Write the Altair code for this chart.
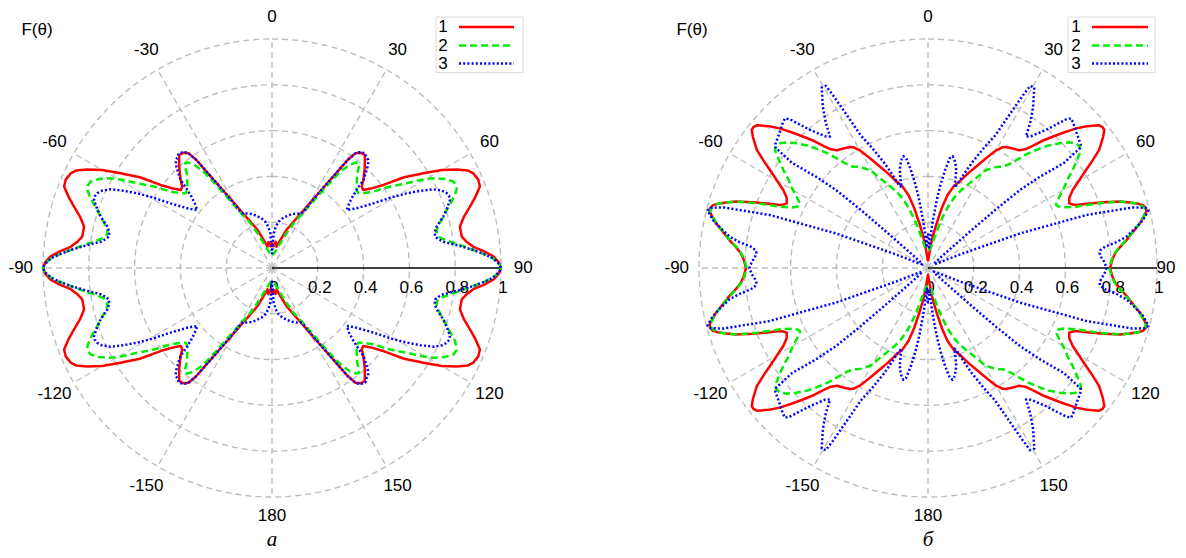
import altair as alt
import pandas as pd

# ---------------- data (first quadrant, theta in degrees; patterns are symmetric) -------------
SERIES = ["1", "2", "3"]
COLORS = ["#ff0000", "#00ee00", "#0000ff"]

# panel а
A1_T = [0, 4, 8, 12, 15, 18, 21, 23.5, 25.6, 28, 29.9, 32.3, 33.9, 35, 36, 37.5, 39.3, 40.7, 42.5, 44, 46,
        47.8, 49.5, 51.5, 53.3, 55.5, 58, 60, 61.9, 63.5, 64.8, 66.8, 68.6, 70.8, 72.8, 75, 77.6, 80.6, 82.5,
        84, 85.5, 87, 88.5, 90]
A1_R = [0.11, 0.095, 0.115, 0.095, 0.115, 0.14, 0.18, 0.205, 0.232, 0.27, 0.317, 0.403, 0.489, 0.576, 0.62,
        0.635, 0.639, 0.622, 0.6, 0.58, 0.555, 0.529, 0.524, 0.56, 0.607, 0.70, 0.78, 0.855, 0.914, 0.955,
        0.971, 0.98, 0.975, 0.94, 0.905, 0.868, 0.84, 0.84, 0.86, 0.884, 0.93, 0.968, 0.99, 1.0]

A2_T = [0, 5, 10, 15, 20, 23, 26, 28, 30, 32, 33.5, 34.5, 35.5, 37, 38.5, 39.5, 40.5, 42, 45, 47, 49.1,
        51, 53, 55.5, 57.8, 59.5, 60.9, 62.8, 64.5, 66, 67.1, 68.5, 69.7, 71.5, 73.3, 75, 77, 78.3, 79.3,
        80.5, 81.6, 83.3, 84.9, 86.3, 87.5, 89, 90]
A2_R = [0.06, 0.06, 0.07, 0.09, 0.13, 0.17, 0.22, 0.25, 0.29, 0.35, 0.42, 0.47, 0.52, 0.565, 0.588, 0.595,
        0.585, 0.556, 0.523, 0.505, 0.498, 0.52, 0.554, 0.63, 0.694, 0.76, 0.806, 0.85, 0.877, 0.882, 0.875,
        0.856, 0.836, 0.806, 0.781, 0.758, 0.738, 0.735, 0.739, 0.76, 0.786, 0.835, 0.883, 0.93, 0.966,
        0.992, 1.0]

A3_T = [0, 1.5, 2.75, 5, 8.2, 12, 16.1, 20, 24.6, 28, 29.5, 30.5, 32.3, 33.9, 35, 36.2, 37.5, 39.2, 40.5,
        41.7, 43, 44, 45, 46.1, 47.3, 48.5, 50, 52.2, 54.8, 57.5, 59.5, 61, 62.5, 64, 65.5, 66.8, 68, 69.1,
        71, 73.3, 75.9, 77.5, 79.1, 80.2, 81.3, 83, 84.9, 86.3, 87.5, 89, 90]
A3_R = [0.06, 0.1, 0.15, 0.18, 0.204, 0.222, 0.236, 0.25, 0.262, 0.268, 0.29, 0.33, 0.403, 0.489, 0.576,
        0.625, 0.638, 0.645, 0.635, 0.632, 0.615, 0.595, 0.575, 0.554, 0.503, 0.47, 0.44, 0.413, 0.452,
        0.525, 0.61, 0.672, 0.73, 0.784, 0.815, 0.83, 0.835, 0.832, 0.81, 0.781, 0.741, 0.728, 0.725,
        0.738, 0.757, 0.815, 0.883, 0.93, 0.966, 0.992, 1.0]

# panel б
B1_T = [0, 3, 5, 7, 9, 11, 13, 15, 17.5, 20.7, 23, 25.9, 28, 29.9, 31.5, 32.7, 35, 37.7, 39.3, 40.5, 41.9,
        43.5, 45, 46.7, 48.3, 50.1, 51.1, 51.9, 53.2, 55.4, 56.8, 58.2, 60, 61.7, 63.5, 65.4, 66.3, 66.9,
        68, 69.5, 70.9, 72, 73, 73.7, 74.7, 75.5, 76.5, 78.1, 80, 82, 84, 85.5, 87.5, 90]
B1_R = [0.03, 0.04, 0.06, 0.1, 0.15, 0.2, 0.27, 0.33, 0.375, 0.411, 0.45, 0.5, 0.545, 0.59, 0.617, 0.628,
        0.638, 0.65, 0.67, 0.7, 0.745, 0.79, 0.835, 0.889, 0.93, 0.972, 0.98, 0.978, 0.955, 0.908, 0.86,
        0.812, 0.76, 0.718, 0.69, 0.678, 0.69, 0.702, 0.75, 0.82, 0.887, 0.925, 0.96, 0.978, 0.987, 0.985,
        0.97, 0.946, 0.91, 0.876, 0.84, 0.82, 0.805, 0.795]

B2_T = [0, 4, 8, 11, 14, 16, 18.1, 20.5, 23.1, 26, 28.7, 30.2, 32, 33.5, 35, 36.5, 38, 39.8, 41, 42.5, 44.5,
        46.5, 48.3, 49.9, 51.2, 52.4, 54, 55.9, 57.7, 59.5, 61.5, 63, 63.8, 64.8, 65.8, 67.5, 69.3, 70.9,
        72, 73, 74, 74.7, 75.5, 76.5, 78.1, 80, 82, 84, 85.5, 87.5, 90]
B2_R = [0.08, 0.08, 0.09, 0.12, 0.18, 0.23, 0.282, 0.33, 0.37, 0.41, 0.455, 0.49, 0.51, 0.527, 0.54, 0.55,
        0.575, 0.623, 0.66, 0.699, 0.75, 0.791, 0.825, 0.845, 0.848, 0.844, 0.805, 0.763, 0.72, 0.69, 0.653,
        0.63, 0.623, 0.63, 0.645, 0.70, 0.8, 0.887, 0.925, 0.96, 0.975, 0.983, 0.982, 0.968, 0.944, 0.908,
        0.873, 0.838, 0.818, 0.802, 0.792]

B3_T = [0, 1.5, 3, 4, 5, 5.9, 7.5, 8.6, 10, 11.3, 12.4, 13.5, 14.8, 16.1, 17.2, 18.2, 19.5, 21, 22.5, 25,
        26.9, 28, 28.8, 29.3, 30.5, 31.3, 33.1, 35, 36.7, 38, 40.5, 42.9, 43.7, 45.1, 48, 51, 51.7, 52.3,
        50.8, 49.7, 49.2, 49, 49.5, 52, 58, 64, 67, 69.4, 71.5, 73.5, 74.5, 75.3, 76.3, 77.4, 79, 81, 82.2,
        83.1, 84.2, 85.1, 86.5, 88, 90]
B3_R = [0.15, 0.14, 0.09, 0.1, 0.16, 0.21, 0.31, 0.37, 0.44, 0.49, 0.5, 0.49, 0.47, 0.445, 0.405, 0.37,
        0.39, 0.44, 0.494, 0.58, 0.65, 0.76, 0.86, 0.912, 0.915, 0.89, 0.841, 0.78, 0.716, 0.73, 0.793,
        0.886, 0.904, 0.896, 0.875, 0.858, 0.85, 0.75, 0.631, 0.527, 0.4, 0.25, 0.1, 0.04, 0.03, 0.05, 0.15,
        0.429, 0.73, 0.93, 0.985, 0.995, 0.98, 0.963, 0.925, 0.878, 0.83, 0.78, 0.755, 0.752, 0.758, 0.77,
        0.78]

RING_R = [0.2, 0.4, 0.6, 0.8, 1.0]
SPOKE_ANG = [0, 30, 60, 120, 150, 180, 210, 240, 270, 300, 330]
RTICK_R = [0, 0.2, 0.4, 0.6, 0.8, 1.0]
RTICK_LABELS = ["0", "0.2", "0.4", "0.6", "0.8", "1"]
ANG_T = [0, 30, 60, 90, 120, 150, 180, -150, -120, -90, -60, -30]
ANG_LABELS = [str(a) for a in ANG_T]

# ---------------- layout ----------------
R_PX = 229.0
H = 542
FONT = "Liberation Sans"
GRAY = "#bdbdbd"
DASHES = {"1": None, "2": [7, 4], "3": [2, 2.2]}


def full_turn(ts, rs):
    pts = list(zip(ts, rs))
    out = list(pts)
    out += [(180 - t, r) for t, r in reversed(pts)]
    out += [(180 + t, r) for t, r in pts]
    out += [(360 - t, r) for t, r in reversed(pts)]
    return out


XY = dict(x="datum.r*sin(datum.theta*PI/180)", y="datum.r*cos(datum.theta*PI/180)")


def panel(curves, view_left, width, cx, cy, legend, ftheta, letter, label_r90):
    xdom = [(view_left - cx) / R_PX, (view_left + width - cx) / R_PX]
    ydom = [(cy - (8 + H)) / R_PX, (cy - 8) / R_PX]
    xs = alt.Scale(domain=xdom, nice=False, zero=False)
    ys = alt.Scale(domain=ydom, nice=False, zero=False)
    X = lambda f: alt.X(f, scale=xs, axis=None)
    Y = lambda f: alt.Y(f, scale=ys, axis=None)
    px = lambda v: (v - cx) / R_PX
    py = lambda v: (cy - v) / R_PX

    rings = pd.DataFrame([{"rad": rr, "theta": a, "r": rr} for rr in RING_R for a in range(0, 362, 2)])
    ring_l = alt.Chart(rings).transform_calculate(**XY).mark_line(
        color=GRAY, strokeWidth=1.4, strokeDash=[6, 4]).encode(
        x=X("x:Q"), y=Y("y:Q"), detail="rad:N", order="theta:Q")

    spokes = pd.DataFrame({"theta": SPOKE_ANG})
    spoke_l = alt.Chart(spokes).transform_calculate(
        x0="0", y0="0", x1="sin(datum.theta*PI/180)", y1="cos(datum.theta*PI/180)").mark_rule(
        color=GRAY, strokeWidth=1.4, strokeDash=[6, 4]).encode(
        x=X("x0:Q"), y=Y("y0:Q"), x2="x1:Q", y2="y1:Q")

    axis_l = alt.Chart(pd.DataFrame({"r": [1.0]})).transform_calculate(
        x0="0", y0="0", y1="0").mark_rule(color="black", strokeWidth=1.6).encode(
        x=X("x0:Q"), y=Y("y0:Q"), x2="r:Q", y2="y1:Q")

    rt = pd.DataFrame({"r": RTICK_R, "label": RTICK_LABELS})
    rt_l = alt.Chart(rt).transform_calculate(y0="0").mark_text(
        font=FONT, fontSize=17, dy=19.5, dx=2, align="center", baseline="middle", color="black").encode(
        x=X("r:Q"), y=Y("y0:Q"), text="label:N")

    lab_r = [label_r90 if a == 90 else (1.084 if a == 180 else 1.097) for a in ANG_T]
    at = pd.DataFrame({"theta": ANG_T, "label": ANG_LABELS, "r": lab_r})
    at_l = alt.Chart(at).transform_calculate(**XY).mark_text(
        font=FONT, fontSize=17, align="center", baseline="middle", color="black", clip=True).encode(
        x=X("x:Q"), y=Y("y:Q"), text="label:N")

    layers = [ring_l, spoke_l, axis_l, rt_l, at_l]

    for s, c, (ts, rs) in zip(SERIES, COLORS, curves):
        pts = full_turn(ts, rs)
        df = pd.DataFrame({"ord": range(len(pts)), "theta": [p[0] for p in pts], "r": [p[1] for p in pts]})
        kw = dict(color=c, strokeWidth=2.5, strokeCap="butt", strokeJoin="round", clip=True)
        if DASHES[s]:
            kw["strokeDash"] = DASHES[s]
        layers.append(alt.Chart(df).transform_calculate(**XY).mark_line(**kw).encode(
            x=X("x:Q"), y=Y("y:Q"), order="ord:Q"))

    # legend
    bx0, bx1, by0, by1, tx, lx0, lx1, rows = legend
    box = pd.DataFrame({"x0": [px(bx0)], "x1": [px(bx1)], "y0": [py(by0)], "y1": [py(by1)]})
    layers.append(alt.Chart(box).mark_rect(fill="white", stroke="#dcdcdc", strokeWidth=1).encode(
        x=X("x0:Q"), x2="x1:Q", y=Y("y0:Q"), y2="y1:Q"))
    for s, c, ry in zip(SERIES, COLORS, rows):
        d = pd.DataFrame({"x0": [px(lx0)], "x1": [px(lx1)], "y": [py(ry)], "label": [s], "tx": [px(tx)]})
        kw = dict(color=c, strokeWidth=2.5, strokeCap="butt")
        if DASHES[s]:
            kw["strokeDash"] = DASHES[s]
        layers.append(alt.Chart(d).mark_rule(**kw).encode(x=X("x0:Q"), x2="x1:Q", y=Y("y:Q")))
        layers.append(alt.Chart(d).mark_text(font=FONT, fontSize=17, align="center", baseline="middle",
                                             color="black").encode(x=X("tx:Q"), y=Y("y:Q"), text="label:N"))

    fx, fy = ftheta
    layers.append(alt.Chart(pd.DataFrame({"x": [px(fx)], "y": [py(fy)], "t": ["F(θ)"]})).mark_text(
        font=FONT, fontSize=17, align="center", baseline="middle", color="black").encode(
        x=X("x:Q"), y=Y("y:Q"), text="t:N"))

    lt, lxp, lyp = letter
    layers.append(alt.Chart(pd.DataFrame({"x": [px(lxp)], "y": [py(lyp)], "t": [lt]})).mark_text(
        font="Liberation Serif", fontSize=21, fontStyle="italic", align="center", baseline="bottom",
        color="black").encode(x=X("x:Q"), y=Y("y:Q"), text="t:N"))

    return alt.layer(*layers).properties(width=width, height=H)


pa = panel([(A1_T, A1_R), (A2_T, A2_R), (A3_T, A3_R)], 8, 580, 272, 268,
           (436, 523, 17, 72.5, 443, 459, 514, [27, 45.5, 63.5]), (37, 30), ("а", 272, 550), 1.097)
pb = panel([(B1_T, B1_R), (B2_T, B2_R), (B3_T, B3_R)], 588, 590, 928, 268,
           (1068, 1155, 17, 72.5, 1076, 1092, 1148, [27, 45.5, 63.5]), (692, 30), ("б", 928, 550),
           (1166 - 928) / R_PX)

chart = alt.hconcat(pa, pb, spacing=0, bounds="flush").properties(padding=0).configure_view(stroke=None)
chart.save("out.html", embed_options={"renderer": "svg", "actions": False})
